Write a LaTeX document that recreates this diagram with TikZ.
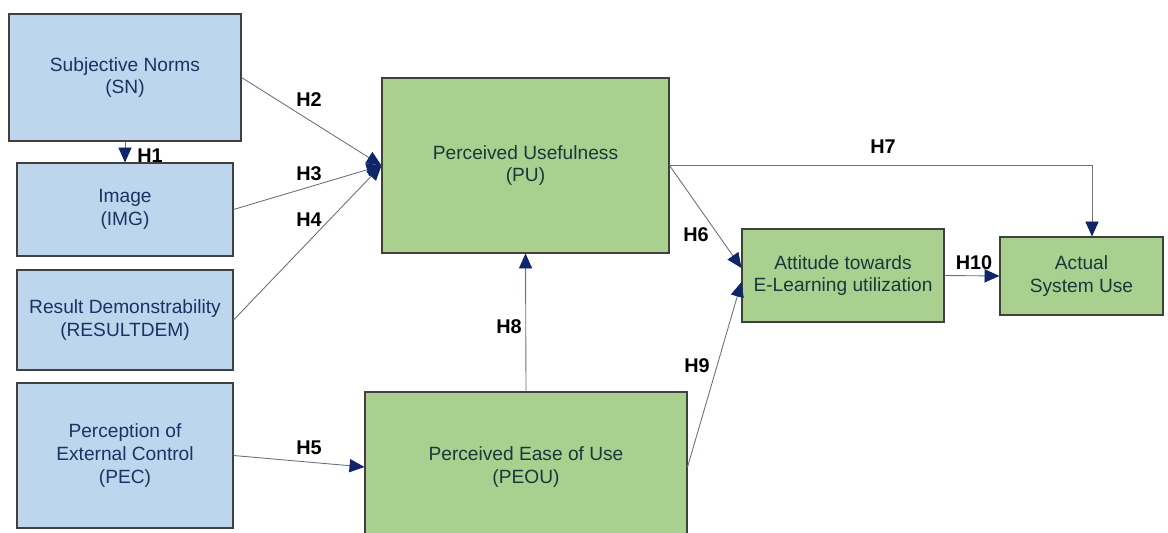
\documentclass[tikz,border=0pt]{standalone}
\usepackage{fontspec}
\setmainfont{Liberation Sans}
\setsansfont{Liberation Sans}
\usetikzlibrary{positioning, arrows.meta, calc}
\definecolor{C0}{RGB}{189, 214, 238}
\definecolor{C1}{RGB}{169, 208, 142}
\definecolor{C2}{RGB}{ 28,  50,  98}
\definecolor{C3}{RGB}{ 25,  55,  60}
\definecolor{C4}{RGB}{ 16,  36, 105}
\definecolor{C5}{RGB}{105, 113, 128}
\tikzset{
  ext/.style={
    rectangle, draw=black!75, fill=C0, semithick,
    align=center, text=C2, inner sep=2pt,
    font=\sffamily\fontsize{10.9}{13}\selectfont
  },
  tam/.style={
    rectangle, draw=black!75, fill=C1, semithick,
    align=center, text=C3, inner sep=2pt,
    font=\sffamily\fontsize{10.9}{13}\selectfont
  },
  hyp/.style={font=\sffamily\bfseries\fontsize{11.3}{13}\selectfont, text=black},
  arr/.style={-{Triangle[length=8.5pt, width=7.5pt, color=C4]}, C5, line width=0.5pt},
}

\begin{document}
\begin{tikzpicture}[font=\sffamily]

  \clip (0, 0) rectangle (23.36, -10.66);

  %% ── External variables ─────────────────────────────────────────────────────

  \node[ext, minimum width=4.64cm, minimum height=2.54cm] (sn)  at (2.50, -1.55)
    {Subjective Norms\\(SN)};
  \node[ext, minimum width=4.32cm, minimum height=1.86cm] (img) at (2.50, -4.19)
    {Image\\(IMG)};
  \node[ext, minimum width=4.32cm, minimum height=2.00cm] (res) at (2.50, -6.40)
    {Result Demonstrability\\(RESULTDEM)};
  \node[ext, minimum width=4.32cm, minimum height=2.90cm] (pec) at (2.50, -9.11)
    {Perception of\\External Control\\(PEC)};

  %% ── TAM constructs ─────────────────────────────────────────────────────────

  \node[tam, minimum width=5.74cm, minimum height=3.50cm] (pu)   at (10.51, -3.31)
    {Perceived Usefulness\\(PU)};
  \node[tam, minimum width=6.44cm, minimum height=3.00cm] (peou) at (10.52, -9.34)
    {Perceived Ease of Use\\(PEOU)};
  \node[tam, minimum width=4.04cm, minimum height=1.86cm] (att)  at (16.86, -5.51)
    {Attitude towards\\E-Learning utilization};
  \node[tam, minimum width=3.26cm, minimum height=1.56cm] (asu)  at (21.63, -5.52)
    {Actual\\System Use};

  %% ── Hypotheses ─────────────────────────────────────────────────────────────

  \draw[arr] (sn.south)  -- (img.north);
  \draw[arr] (sn.east)   -- (pu.west);
  \draw[arr] (img.east)  -- (pu.west);
  \draw[arr] (res.east)  -- (pu.west);
  \draw[arr] (pec.east)  -- (peou.west);
  \draw[arr] (peou.north) -- (pu.south);
  \draw[arr] (pu.east)   -- ([yshift=0.15cm]att.west);
  \draw[arr] (peou.east) -- ([yshift=-0.13cm]att.west);
  \draw[arr] (pu.east)   -| ([xshift=0.21cm]asu.north);
  \draw[arr] (att.east)  -- (asu.west);

  % Labels
  \node[hyp] (h1)  at ( 3.00, -3.12) {H1};
  \node[hyp] (h2)  at ( 6.18, -2.00) {H2};
  \node[hyp] (h3)  at ( 6.18, -3.48) {H3};
  \node[hyp] (h4)  at ( 6.18, -4.40) {H4};
  \node[hyp] (h5)  at ( 6.18, -8.96) {H5};
  \node[hyp] (h6)  at (13.92, -4.70) {H6};
  \node[hyp] (h7)  at (17.66, -2.94) {H7};
  \node[hyp] (h8)  at (10.18, -6.54) {H8};
  \node[hyp] (h9)  at (13.94, -7.32) {H9};
  \node[hyp] (h10) at (19.48, -5.26) {H10};

\end{tikzpicture}
\end{document}
